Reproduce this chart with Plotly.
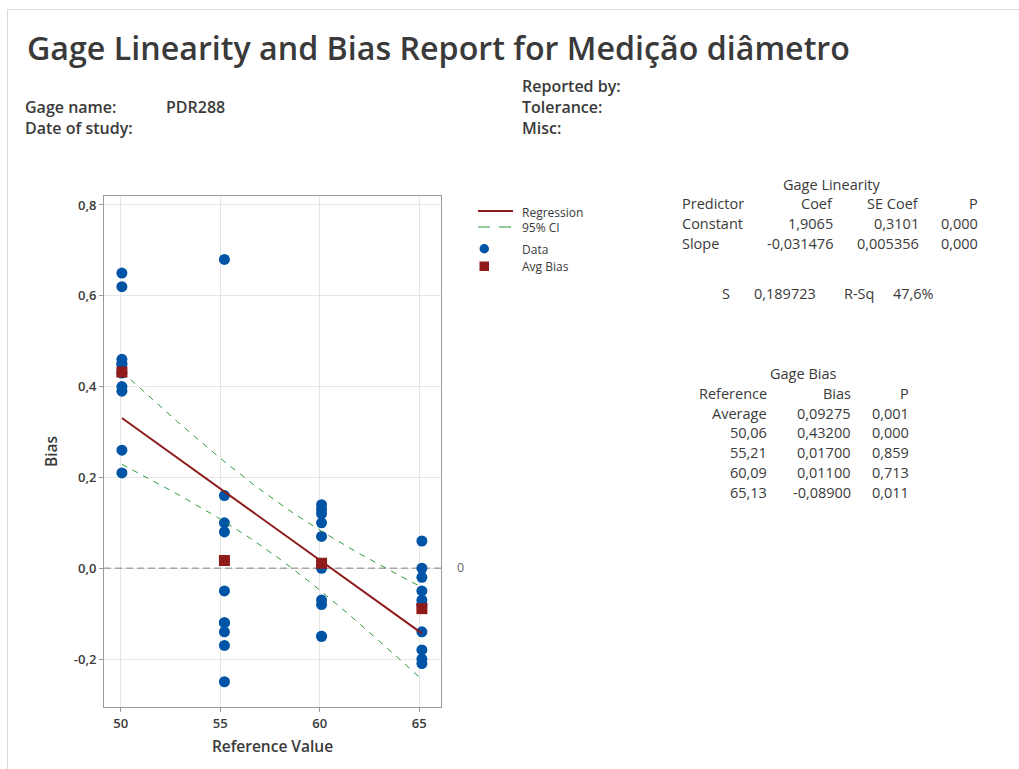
import numpy as np
import plotly.graph_objects as go

# ---- data -------------------------------------------------------------
ref_values = [50.06, 55.21, 60.09, 65.13]
bias_50 = [0.65, 0.62, 0.46, 0.45, 0.45, 0.43, 0.40, 0.39, 0.26, 0.21]
bias_55 = [0.68, 0.16, 0.10, 0.08, -0.05, -0.12, -0.12, -0.14, -0.17, -0.25]
bias_60 = [0.14, 0.13, 0.12, 0.10, 0.07, 0.00, -0.07, -0.08, -0.15, -0.15]
bias_65 = [0.06, 0.00, -0.02, -0.05, -0.07, -0.08, -0.14, -0.18, -0.20, -0.21]
avg_bias = [0.43200, 0.01700, 0.01100, -0.08900]

coef_const = 1.9065
coef_slope = -0.031476
s_value = 0.189723

y_ticks = [-0.2, 0.0, 0.2, 0.4, 0.6, 0.8]
x_ticks = [50, 55, 60, 65]

linearity_rows = [
    ["Constant", "1,9065", "0,3101", "0,000"],
    ["Slope", "-0,031476", "0,005356", "0,000"],
]
bias_rows = [
    ["Average", "0,09275", "0,001"],
    ["50,06", "0,43200", "0,000"],
    ["55,21", "0,01700", "0,859"],
    ["60,09", "0,01100", "0,713"],
    ["65,13", "-0,08900", "0,011"],
]

# ---- derived series ---------------------------------------------------
groups = [bias_50, bias_55, bias_60, bias_65]
x_pts = np.concatenate([[r] * len(g) for r, g in zip(ref_values, groups)])
y_pts = np.concatenate(groups)

x_line = np.linspace(min(ref_values), max(ref_values), 120)
y_fit = coef_const + coef_slope * x_line
n = len(x_pts)
x_bar = x_pts.mean()
sxx = ((x_pts - x_bar) ** 2).sum()
t_crit = 2.024  # t(0.975, n-2)
half = t_crit * s_value * np.sqrt(1 / n + (x_line - x_bar) ** 2 / sxx)

# ---- layout geometry (pixels) -----------------------------------------
W, H = 1019, 769
L, R, T, B = 104, 441, 196, 707


def fx(px):
    return (px - L) / (R - L)


def fy(py):
    return (B - py) / (B - T)


FONT = "Open Sans"
TXT = "#3a3a3a"
BLUE = "#0054a6"
RED = "#8e1a1a"
GREEN = "#2f9a3e"

fig = go.Figure()

# zero reference line (drawn as a trace so it sits above the grid)
fig.add_trace(go.Scatter(
    x=[49.161, 66.09], y=[0, 0], mode="lines", hoverinfo="skip",
    line=dict(color="#a6a6a6", width=1.3, dash="7px,4px"),
))
fig.add_trace(go.Scatter(
    x=x_pts, y=y_pts, mode="markers", name="Data",
    marker=dict(color=BLUE, size=11, symbol="circle"),
))
fig.add_trace(go.Scatter(
    x=x_line, y=y_fit, mode="lines", name="Regression",
    line=dict(color=RED, width=2),
))
for band in (y_fit + half, y_fit - half):
    fig.add_trace(go.Scatter(
        x=x_line, y=band, mode="lines", name="95% CI",
        line=dict(color=GREEN, width=1, dash="6px,6px"),
    ))
fig.add_trace(go.Scatter(
    x=ref_values, y=avg_bias, mode="markers", name="Avg Bias",
    marker=dict(color=RED, size=11, symbol="square"),
))

ann = []


def text(x, y, s, size=14, anchor="left", color=TXT, weight=400):
    ann.append(dict(
        x=fx(x), y=fy(y), xref="paper", yref="paper", text=s,
        showarrow=False, xanchor=anchor, yanchor="middle",
        font=dict(family=FONT, size=size, color=color, weight=weight),
    ))


# header
text(25, 47, "Gage Linearity and Bias Report for Medição diâmetro", size=32.2, weight=600)
for (x, y, s) in [(23, 107, "Gage name:"), (164, 107, "PDR288"), (23, 128, "Date of study:"),
                  (520, 86, "Reported by:"), (520, 107, "Tolerance:"), (520, 128, "Misc:")]:
    text(x, y, s, size=16, weight=600)

# zero label
text(455, 567, "0", size=12.5, color="#6a6a6a")

# legend, drawn as glyphs + labels
legend_items = ["Regression", "95% CI", "Data", "Avg Bias"]
legend_y = [212, 227, 249, 266]
shapes = [
    dict(type="line", x0=fx(478), x1=fx(513), y0=fy(211), y1=fy(211),
         line=dict(color=RED, width=2)),
    dict(type="line", x0=fx(478), x1=fx(513), y0=fy(227), y1=fy(227),
         line=dict(color=GREEN, width=1.2, dash="12px,9px")),
    dict(type="circle", x0=fx(479.5), x1=fx(489), y0=fy(244), y1=fy(253.5),
         fillcolor=BLUE, line=dict(color=BLUE, width=0)),
    dict(type="rect", x0=fx(479.5), x1=fx(489), y0=fy(261.5), y1=fy(271),
         fillcolor=RED, line=dict(color=RED, width=0)),
    # page border
    dict(type="line", x0=fx(7), x1=fx(W), y0=fy(9.5), y1=fy(9.5),
         line=dict(color="#d9d9d9", width=1)),
    dict(type="line", x0=fx(7.5), x1=fx(7.5), y0=fy(9.5), y1=fy(H),
         line=dict(color="#d9d9d9", width=1)),
]
for s in shapes:
    fig.add_shape(xref="paper", yref="paper", **s)
for lab, yy in zip(legend_items, legend_y):
    text(520, yy, lab, size=12)

TS = 14.5
# Gage Linearity table
text(831, 184, "Gage Linearity", size=TS, anchor="center")
text(680, 203, "Predictor", size=TS)
text(835, 203, "Coef", size=TS, anchor="right")
text(921, 203, "SE Coef", size=TS, anchor="right")
text(980, 203, "P", size=TS, anchor="right")
for i, row in enumerate(linearity_rows):
    yy = 223 + 20 * i
    text(680, yy, row[0], size=TS)
    text(835, yy, row[1], size=TS, anchor="right")
    text(921, yy, row[2], size=TS, anchor="right")
    text(980, yy, row[3], size=TS, anchor="right")
text(732, 293, "S", size=TS, anchor="right")
text(818, 293, "0,189723", size=TS, anchor="right")
text(876, 293, "R-Sq", size=TS, anchor="right")
text(936, 293, "47,6%", size=TS, anchor="right")

# Gage Bias table
text(803, 373, "Gage Bias", size=TS, anchor="center")
text(769, 393, "Reference", size=TS, anchor="right")
text(853, 393, "Bias", size=TS, anchor="right")
text(911, 393, "P", size=TS, anchor="right")
for i, row in enumerate(bias_rows):
    yy = 413 + 19.8 * i
    text(769, yy, row[0], size=TS, anchor="right")
    text(853, yy, row[1], size=TS, anchor="right")
    text(911, yy, row[2], size=TS, anchor="right")

axis_common = dict(
    showline=True, mirror=True, linecolor="#9a9a9a", linewidth=1,
    showgrid=True, gridcolor="#e6e6e6", gridwidth=1,
    ticks="outside", ticklen=4, tickcolor="#9a9a9a",
    zeroline=False,
    tickfont=dict(family=FONT, size=13, color=TXT, weight=600),
)

fig.update_layout(
    width=W, height=H,
    margin=dict(l=L, r=W - R, t=T, b=H - B, pad=0),
    paper_bgcolor="white", plot_bgcolor="white",
    separators=",.",
    showlegend=False,
    xaxis=dict(
        range=[49.161, 66.09], tickvals=x_ticks, ticktext=[str(v) for v in x_ticks],
        title=dict(text="Reference Value", font=dict(family=FONT, size=15.5, color=TXT, weight=600), standoff=10),
        **axis_common,
    ),
    yaxis=dict(
        range=[-0.3056, 0.8198], tickvals=y_ticks,
        ticktext=[f"{v:.1f}".replace(".", ",") for v in y_ticks],
        title=dict(text="Bias", font=dict(family=FONT, size=15.5, color=TXT, weight=600), standoff=12),
        **axis_common,
    ),
    annotations=ann,
)

fig.write_html("out.html")
